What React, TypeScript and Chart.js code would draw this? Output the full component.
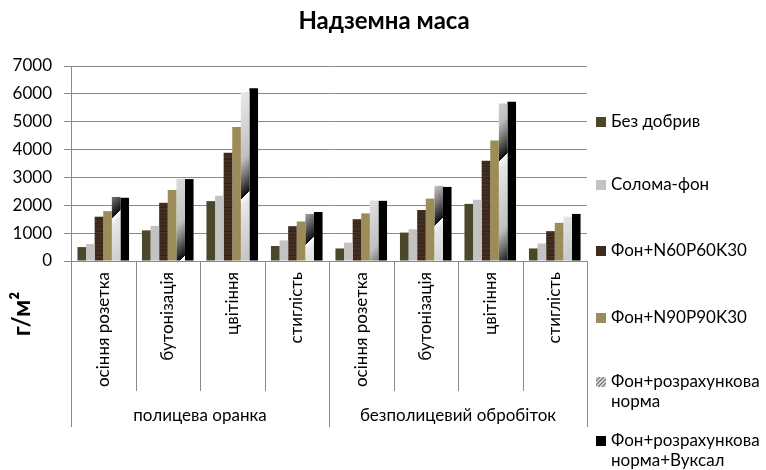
import React, { useEffect, useRef } from 'react';
import { Chart, registerables } from 'chart.js';

Chart.register(...registerables);

const stages = ['осіння розетка', 'бутонізація', 'цвітіння', 'стиглість', 'осіння розетка', 'бутонізація', 'цвітіння', 'стиглість'];
const tillage = ['полицева оранка', 'безполицевий обробіток'];
const seriesNames = ['Без добрив', 'Солома-фон', 'Фон+N60P60K30', 'Фон+N90P90K30', 'Фон+розрахункова норма', 'Фон+розрахункова норма+Вуксал'];
const legendLines = [['Без добрив'], ['Солома-фон'], ['Фон+N60P60K30'], ['Фон+N90P90K30'], ['Фон+розрахункова', 'норма'], ['Фон+розрахункова', 'норма+Вуксал']];

const bezDobryv = [500, 1100, 2150, 540, 450, 1020, 2050, 450];
const soloma = [610, 1260, 2340, 740, 660, 1140, 2200, 630];
const n60 = [1590, 2090, 3890, 1250, 1500, 1830, 3600, 1070];
const n90 = [1790, 2550, 4810, 1420, 1710, 2240, 4330, 1370];
const rozrah = [2300, 2950, 6080, 1690, 2170, 2700, 5650, 1590];
const vuksal = [2270, 2940, 6200, 1760, 2160, 2660, 5720, 1690];

const yMin = 0;
const yMax = 7000;
const yStep = 1000;

const FONT = 'Lato';
const GRID = '#8a8a8a';

function makeWood(ctx: CanvasRenderingContext2D) {
  const c = document.createElement('canvas');
  c.width = 4;
  c.height = 12;
  const g = c.getContext('2d')!;
  const shades = ['#3e2b1e', '#45301f', '#3a291c', '#33241a', '#4a3424', '#3c2a1d', '#422e20', '#36261b', '#473223', '#3d2b1e', '#382719', '#443021'];
  shades.forEach((s, i) => {
    g.fillStyle = s;
    g.fillRect(0, i, 4, 1);
  });
  return ctx.createPattern(c, 'repeat')!;
}

function chromeValue(t: number) {
  if (t < 0.05) return 255 - (t / 0.05) * 20;
  if (t < 0.65) return 232 - ((t - 0.05) / 0.6) * 40;
  if (t < 0.8) return 192 - ((t - 0.65) / 0.15) * 72;
  return 120 - ((t - 0.8) / 0.2) * 110;
}

function makeChrome(ctx: CanvasRenderingContext2D) {
  const P = 110;
  const c = document.createElement('canvas');
  c.width = P;
  c.height = P;
  const g = c.getContext('2d')!;
  const img = g.createImageData(P, P);
  for (let y = 0; y < P; y++) {
    for (let x = 0; x < P; x++) {
      const t = ((x + y) % P) / P;
      const v = Math.round(chromeValue(t));
      const k = (y * P + x) * 4;
      img.data[k] = v;
      img.data[k + 1] = v;
      img.data[k + 2] = v;
      img.data[k + 3] = 255;
    }
  }
  g.putImageData(img, 0, 0);
  return ctx.createPattern(c, 'repeat')!;
}

const legendColors = ['#4c4729', '#c3c3c3', '#3f2b1e', '#9c8c5a', 'hatch', '#000000'];
const legendY = [122, 185, 251, 318, 382, 441];

const decor = {
  id: 'decor',
  afterDraw(chart: any) {
    const { ctx, chartArea } = chart;
    const x = chart.scales.x;
    ctx.save();
    ctx.fillStyle = '#000';
    // title
    ctx.font = `bold 24px ${FONT}`;
    ctx.textAlign = 'center';
    ctx.textBaseline = 'middle';
    ctx.fillText('Надземна маса', 384, 21);
    // y axis title
    ctx.save();
    ctx.translate(22, 314);
    ctx.rotate(-Math.PI / 2);
    ctx.fillText('г/м²', 0, 0);
    ctx.restore();

    // category axis
    const n = stages.length;
    const w = (chartArea.right - chartArea.left) / n;
    ctx.strokeStyle = GRID;
    ctx.lineWidth = 1;
    for (let i = 0; i <= n; i++) {
      const xb = i < n ? x.getPixelForValue(i) - w / 2 : x.getPixelForValue(n - 1) + w / 2;
      const px = Math.round(xb) + 0.5;
      const outer = i % 4 === 0;
      ctx.beginPath();
      ctx.moveTo(px, chartArea.bottom);
      ctx.lineTo(px, outer ? 427 : 391);
      ctx.stroke();
    }
    ctx.font = `17px ${FONT}`;
    ctx.fillStyle = '#000';
    for (let i = 0; i < n; i++) {
      const cx = x.getPixelForValue(i);
      ctx.save();
      ctx.translate(cx, 272);
      ctx.rotate(-Math.PI / 2);
      ctx.textAlign = 'right';
      ctx.textBaseline = 'middle';
      ctx.fillText(stages[i], 0, 0);
      ctx.restore();
    }
    ctx.textAlign = 'center';
    ctx.textBaseline = 'middle';
    for (let g = 0; g < tillage.length; g++) {
      const l = x.getPixelForValue(g * 4) - w / 2;
      const r = x.getPixelForValue(g * 4 + 3) + w / 2;
      ctx.fillText(tillage[g], (l + r) / 2, 416);
    }

    // legend
    ctx.textAlign = 'left';
    for (let i = 0; i < legendLines.length; i++) {
      const cy = legendY[i];
      const bx = 596;
      const by = cy - 5;
      if (legendColors[i] === 'hatch') {
        ctx.save();
        ctx.beginPath();
        ctx.rect(bx, by, 10, 10);
        ctx.clip();
        ctx.fillStyle = '#e6e6e6';
        ctx.fillRect(bx, by, 10, 10);
        ctx.strokeStyle = '#7a7a7a';
        ctx.lineWidth = 1.5;
        for (let k = -10; k < 20; k += 4) {
          ctx.beginPath();
          ctx.moveTo(bx + k, by + 10);
          ctx.lineTo(bx + k + 10, by);
          ctx.stroke();
        }
        ctx.restore();
      } else {
        ctx.fillStyle = legendColors[i];
        ctx.fillRect(bx, by, 10, 10);
      }
      ctx.fillStyle = '#000';
      legendLines[i].forEach((line, j) => {
        ctx.fillText(line, 611, cy + j * 20);
      });
    }
    ctx.restore();
  },
};

export default function App() {
  const ref = useRef<HTMLCanvasElement>(null);
  useEffect(() => {
    const canvas = ref.current!;
    const ctx = canvas.getContext('2d')!;
    const wood = makeWood(ctx);
    const chrome = makeChrome(ctx);
    const colors: any[] = ['#4c4729', '#c3c3c3', wood, '#9c8c5a', chrome, '#000000'];
    const values = [bezDobryv, soloma, n60, n90, rozrah, vuksal];
    const chart = new Chart(ctx, {
      type: 'bar',
      data: {
        labels: stages,
        datasets: seriesNames.map((name, i) => ({
          label: name,
          data: values[i],
          backgroundColor: colors[i],
          borderWidth: 0,
          categoryPercentage: 0.8,
          barPercentage: 1,
        })),
      },
      options: {
        responsive: false,
        animation: false,
        layout: { padding: { left: 0, top: 66, right: 179, bottom: 209 } },
        plugins: {
          legend: { display: false },
          title: { display: false },
          tooltip: { enabled: false },
        },
        scales: {
          x: { display: false },
          y: {
            min: yMin,
            max: yMax,
            afterFit: (s: any) => {
              s.width = 71;
            },
            ticks: {
              stepSize: yStep,
              padding: 12,
              color: '#000',
              font: { family: FONT, size: 17 },
              callback: (v: any) => String(v),
            },
            grid: { color: GRID, lineWidth: 1, tickLength: 7 },
            border: { color: GRID },
          },
        },
      },
      plugins: [decor],
    });
    return () => chart.destroy();
  }, []);
  return (
    <div style={{ position: 'fixed', left: 0, top: 0, width: 766, height: 470, background: '#fff' }}>
      <canvas ref={ref} width={766} height={470} style={{ display: 'block' }} />
    </div>
  );
}
